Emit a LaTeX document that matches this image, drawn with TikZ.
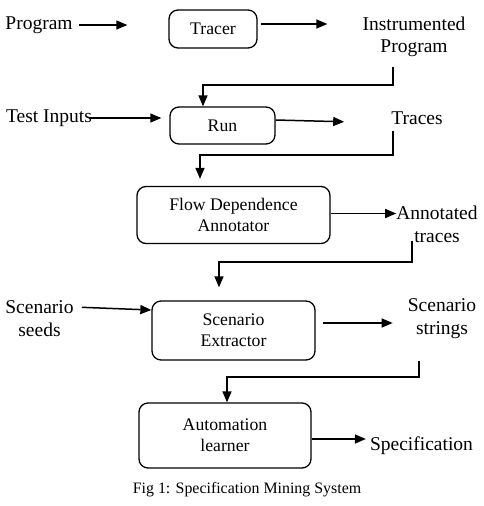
\documentclass[tikz,border=0pt]{standalone}
\usepackage{fontspec}
\setmainfont{Liberation Serif}
\usetikzlibrary{arrows.meta}

\begin{document}
\begin{tikzpicture}[
  x=1pt, y=-1pt,
  box/.style={draw, rounded corners=9pt, line width=1.3pt, align=center, inner sep=0pt, font=\fontsize{17.7}{21}\selectfont},
  lbl/.style={align=center, inner sep=0pt, font=\fontsize{19.5}{22.5}\selectfont},
  line/.style={-{Triangle[length=11pt,width=9pt]}, line width=1.5pt}
]
\useasboundingbox (0,0) rectangle (484,506);
% boxes
\node[box, minimum width=88pt, minimum height=38pt] (tracer) at (213,29) {Tracer};
\node[box, minimum width=105pt, minimum height=37pt] (run) at (222.5,125.5) {Run};
\node[box, minimum width=193pt, minimum height=57pt] (fda) at (233.5,215) {Flow Dependence\\Annotator};
\node[box, minimum width=163pt, minimum height=59pt] (extract) at (233.5,330.5) {Scenario\\Extractor};
\node[box, minimum width=172pt, minimum height=65pt] (learner) at (225,435.5) {Automation\\learner};
% labels
\node[lbl] (prog) at (39,25) {Program};
\node[lbl] (instr) at (414,37) {Instrumented\\Program};
\node[lbl] (tests) at (49,118) {Test Inputs};
\node[lbl] (traces) at (417,118) {Traces};
\node[lbl] (annot) at (437,224.5) {Annotated\\traces};
\node[lbl] (seeds) at (39.5,318.5) {Scenario\\seeds};
\node[lbl] (strings) at (442,318.5) {Scenario\\strings};
\node[lbl] (spec) at (421.5,446) {Specification};
\node[inner sep=0pt, font=\fontsize{15.9}{18}\selectfont] (caption) at (247,490) {Fig 1: Specification Mining System};
% bends
\coordinate (k1) at (393,85);
\coordinate (k2) at (393,155);
\coordinate (k3) at (412,262);
\coordinate (k4) at (419,377);
% connectors
\draw[line, shorten <=6pt, shorten >=41pt] (prog.east) -- (prog.east -| tracer.west);
\draw[line, shorten <=3pt, shorten >=35pt] ([yshift=5pt]tracer.east) -- ([yshift=5pt]tracer.east -| instr.west);
\draw[line, shorten <=10pt] (instr.south -| k1) -- (k1) -| ([xshift=-19.5pt]run.north);
\draw[line, shorten <=-3pt, shorten >=8pt] (tests.east) -- (tests.east -| run.west);
\draw[line, shorten >=47pt] ([yshift=5.5pt]run.east) -- ([yshift=-5pt]traces.west);
\draw[line, shorten <=6pt, shorten >=7pt] (traces.south -| k2) -- (k2) -| ([xshift=-33.5pt]fda.north);
\draw[line] ([yshift=1.5pt]fda.east) -- ([yshift=1.5pt]fda.east -| annot.west);
\draw[line, shorten <=-2pt, shorten >=13pt] (annot.south -| k3) -- (k3) -| ([xshift=-14.5pt]extract.north);
\draw[line, shorten <=8pt] ([yshift=11.5pt]seeds.east) -- ([yshift=20.5pt]extract.west);
\draw[line, shorten <=7pt, shorten >=15pt] ([yshift=7.5pt]extract.east) -- ([yshift=7.5pt]extract.east -| strings.west);
\draw[line, shorten <=22pt] (strings.south -| k4) -- (k4) -| ([xshift=2pt]learner.north);
\draw[line, shorten >=4pt] ([yshift=-3.5pt]learner.east) -- ([yshift=-3.5pt]learner.east -| spec.west);
\end{tikzpicture}
\end{document}
